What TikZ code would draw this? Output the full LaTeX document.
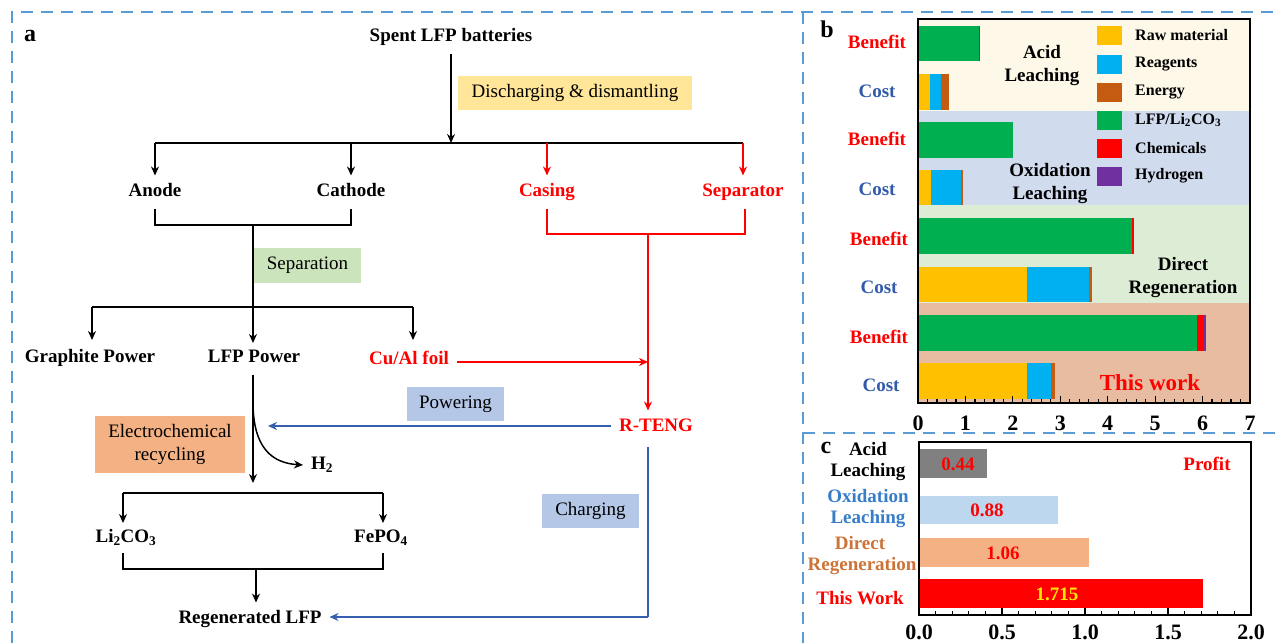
\documentclass[tikz,border=0pt]{standalone}
\usepackage{fontspec}
\setmainfont{Liberation Serif}
\usetikzlibrary{arrows.meta}
\definecolor{dashblue}{RGB}{91,155,213}
\definecolor{pred}{RGB}{255,0,0}
\definecolor{pblue}{RGB}{55,95,175}
\definecolor{costblue}{RGB}{50,90,170}
\definecolor{boxyellow}{RGB}{255,230,153}
\definecolor{boxgreen}{RGB}{204,228,188}
\definecolor{boxblue}{RGB}{180,199,231}
\definecolor{boxorange}{RGB}{244,177,131}
\definecolor{bgacid}{RGB}{253,248,232}
\definecolor{bgoxid}{RGB}{208,219,238}
\definecolor{bgdirect}{RGB}{221,236,212}
\definecolor{bgthis}{RGB}{231,188,160}
\definecolor{cyel}{RGB}{255,192,0}
\definecolor{cblue}{RGB}{0,176,240}
\definecolor{cbrown}{RGB}{197,90,17}
\definecolor{cgreen}{RGB}{0,176,80}
\definecolor{cpurple}{RGB}{112,48,160}
\definecolor{cgray}{RGB}{128,128,128}
\definecolor{clight}{RGB}{189,215,238}
\definecolor{oxtext}{RGB}{55,125,200}
\definecolor{dirtext}{RGB}{205,115,55}
\definecolor{valyellow}{RGB}{255,235,0}
\begin{document}
\begin{tikzpicture}[x=1pt,y=-1pt,
  lbl/.style={font=\bfseries\fontsize{19}{23}\selectfont, inner sep=0pt, outer sep=8pt, text height=13pt, text depth=4pt},
  plain/.style={font=\bfseries\fontsize{19}{23}\selectfont, inner sep=0pt, align=center},
  ticklbl/.style={font=\bfseries\fontsize{22}{26}\selectfont, inner sep=0pt},
  legtext/.style={font=\bfseries\fontsize{16}{19}\selectfont, inner sep=0pt, anchor=west},
  procbox/.style={font=\fontsize{19}{23}\selectfont, inner sep=0pt, align=center},
  ln/.style={line width=1.5pt},
  arr/.style={line width=1.5pt, -{Stealth[length=9pt,width=8pt]}},
  border/.style={dashblue, line width=2.5pt, dash pattern=on 12pt off 8pt},
  frame/.style={line width=1.8pt, black}
]
\useasboundingbox (0,0) rectangle (1276,643);

% ---------- borders ----------
\draw[border] (12,643) -- (12,12) -- (1276,12);
\draw[border] (803,12) -- (803,643);
\draw[border] (803,433) -- (1276,433);

% ---------- panel a ----------
\node[font=\bfseries\fontsize{24}{28}\selectfont, inner sep=0pt] (pa) at (30,36) {a};
\node[lbl] (spent) at (451,37) {Spent LFP batteries};
\node[procbox, fill=boxyellow, minimum width=234pt, minimum height=34pt] (dis) at (575,93) {Discharging \& dismantling};
\node[lbl] (anode) at (155,192) {Anode};
\node[lbl] (cathode) at (351,192) {Cathode};
\node[lbl, text=pred] (casing) at (547,192) {Casing};
\node[lbl, text=pred] (separator) at (743,192) {Separator};
\node[procbox, fill=boxgreen, minimum width=107pt, minimum height=35pt] (sep) at (307.5,265.5) {Separation};
\node[lbl] (graphite) at (90,358) {Graphite Power};
\node[lbl] (lfp) at (254,358) {LFP Power};
\node[lbl, text=pred] (cual) at (409,360) {Cu/Al foil};
\node[lbl, text=pred] (rteng) at (656,427) {R-TENG};
\node[procbox, fill=boxblue, minimum width=97pt, minimum height=34pt] (pow) at (455.5,404) {Powering};
\node[procbox, fill=boxorange, minimum width=150pt, minimum height=57pt] (echem) at (170,444.5) {Electrochemical\\recycling};
\node[lbl] (h2) at (322,465) {H\textsubscript{2}};
\node[lbl] (li) at (126,538) {Li\textsubscript{2}CO\textsubscript{3}};
\node[lbl] (fe) at (381,538) {FePO\textsubscript{4}};
\node[lbl] (regen) at (250,619) {Regenerated LFP};
\node[procbox, fill=boxblue, minimum width=97pt, minimum height=34pt] (chg) at (590.5,511) {Charging};

\coordinate (j1) at (451,143);
\coordinate (jl) at (155,143);
\coordinate (jc) at (351,143);
\coordinate (jk) at (547,143);
\coordinate (jr) at (743,143);
\draw[arr] (spent.south -| j1) -- (j1);
\draw[ln] (jl) -- (jr);
\draw[arr] (jl) -- (jl |- anode.north);
\draw[arr] (jc) -- (jc |- cathode.north);
\draw[arr, pred] (jk) -- (jk |- casing.north);
\draw[arr, pred] (jr) -- (jr |- separator.north);

\coordinate (ac1) at (155,225);
\coordinate (ac2) at (351,225);
\coordinate (acm) at (253,225);
\draw[ln] (ac1 |- anode.south) -- (ac1) -- (ac2) -- (ac2 |- cathode.south);
\coordinate (lt) at (253,343);
\draw[arr] (acm) -- (lt);
\coordinate (g1) at (92,307);
\coordinate (g2) at (413,307);
\draw[ln] (g1) -- (g2);
\draw[arr] (g1) -- (92,340);
\draw[arr] (g2) -- (413,340);

\coordinate (cs1) at (547,234);
\coordinate (cs2) at (745,234);
\coordinate (csm) at (648,234);
\draw[ln, pred] (cs1 |- casing.south) -- (cs1) -- (cs2) -- (cs2 |- separator.south);
\draw[arr, pred] (csm) -- (csm |- rteng.north);
\coordinate (cuend) at (648,362);
\draw[arr, pred] (cual.east |- cuend) -- (cuend);
\coordinate (pw) at (268,426);
\draw[arr, pblue] (rteng.west |- pw) -- (pw);

\coordinate (lf1) at (253,483);
\draw[arr] (lf1 |- lfp.south) -- (lf1);
\draw[arr] (253,402) .. controls (253,448) and (272,463) .. (h2.west);
\coordinate (b1) at (123,493);
\coordinate (b2) at (383,493);
\draw[ln] (b1) -- (b2);
\draw[arr] (b1) -- (123,523);
\draw[arr] (b2) -- (383,523);
\coordinate (d1) at (123,569);
\coordinate (d2) at (383,569);
\coordinate (dm) at (256,569);
\draw[ln] (123,553) -- (d1) -- (d2) -- (383,553);
\draw[arr] (dm) -- (dm |- regen.north);
\coordinate (ch0) at (648,447);
\coordinate (ch1) at (648,617);
\draw[ln, pblue] (ch0) -- (ch1);
\draw[arr, pblue] (ch1) -- (regen.east |- ch1);

% ---------- panel b ----------
\node[font=\bfseries\fontsize{24}{28}\selectfont, inner sep=0pt] (pb) at (827,29) {b};
\fill[bgacid] (918,19) rectangle (1250,111);
\fill[bgoxid] (918,111) rectangle (1250,205);
\fill[bgdirect] (918,205) rectangle (1250,303);
\fill[bgthis] (918,303) rectangle (1250,403);
% bars
\fill[cgreen] (918,26) rectangle (979,61); \fill[pred] (979,26) rectangle (980,61);
\fill[cyel] (918,74) rectangle (930,110); \fill[cblue] (930,74) rectangle (941,110); \fill[cbrown] (941,74) rectangle (949,110);
\fill[cgreen] (918,122) rectangle (1013,158);
\fill[cyel] (918,170) rectangle (931,205); \fill[cblue] (931,170) rectangle (961,205); \fill[cbrown] (961,170) rectangle (963,205);
\fill[cgreen] (918,218) rectangle (1132,254); \fill[pred] (1132,218) rectangle (1133.5,254);
\fill[cyel] (918,267) rectangle (1027,302); \fill[cblue] (1027,267) rectangle (1089,302); \fill[cbrown] (1089,267) rectangle (1092,302);
\fill[cgreen] (918,315) rectangle (1197,351); \fill[pred] (1197,315) rectangle (1203,351); \fill[cpurple] (1203,315) rectangle (1206,351);
\fill[cyel] (918,363) rectangle (1027,399); \fill[cblue] (1027,363) rectangle (1051,399); \fill[cbrown] (1051,363) rectangle (1055,399);
\draw[frame] (918,19) rectangle (1250,403);
\foreach \k in {0,...,7} {
  \draw[line width=1.2pt] ({918+47.43*\k},403) -- ++(0,-7);
  \node[ticklbl] at ({918+47.43*\k},423) {\k};
}
\foreach \k in {1,...,34} {
  \draw[line width=1.2pt] ({918+9.486*\k},403) -- ++(0,-4);
}
\node[plain, text=pred] (bb1) at (877,42) {Benefit};
\node[plain, text=costblue] (bc1) at (877,91) {Cost};
\node[plain, text=pred] (bb2) at (877,139) {Benefit};
\node[plain, text=costblue] (bc2) at (877,189) {Cost};
\node[plain, text=pred] (bb3) at (879,239) {Benefit};
\node[plain, text=costblue] (bc3) at (879,287) {Cost};
\node[plain, text=pred] (bb4) at (879,337) {Benefit};
\node[plain, text=costblue] (bc4) at (881,385) {Cost};
\node[plain] (racid) at (1042,66) {Acid\\Leaching};
\node[plain] (roxid) at (1050,184) {Oxidation\\Leaching};
\node[plain] (rdir) at (1183,277) {Direct\\Regeneration};
\node[plain, text=pred, font=\bfseries\fontsize{23}{27}\selectfont] (rthis) at (1150,383) {This work};
% legend
\foreach \c/\t/\yy in {cyel/{Raw material}/35, cblue/{Reagents}/64, cbrown/{Energy}/92, cgreen/{LFP/Li\textsubscript{2}CO\textsubscript{3}}/120, pred/{Chemicals}/148, cpurple/{Hydrogen}/176} {
  \fill[\c] (1097,\yy-9.5) rectangle (1122,\yy+9.5);
  \node[legtext] at (1135,\yy) {\t};
}

% ---------- panel c ----------
\node[font=\bfseries\fontsize{24}{28}\selectfont, inner sep=0pt] (pc) at (826,448) {c};
\fill[cgray] (919,449) rectangle (987,478);
\fill[clight] (919,496) rectangle (1058,524);
\fill[boxorange] (919,538) rectangle (1089,567);
\fill[pred] (919,579) rectangle (1203,608);
\draw[frame] (919,442) rectangle (1251,615);
\foreach \k in {0,...,4} {
  \draw[line width=1.2pt] ({919+83*\k},615) -- ++(0,-7);
}
\foreach \k in {1,...,19} {
  \draw[line width=1.2pt] ({919+16.6*\k},615) -- ++(0,-4);
}
\foreach \v/\xx in {0.0/919, 0.5/1002, 1.0/1085, 1.5/1168, 2.0/1251} {
  \node[ticklbl] at (\xx,632) {\v};
}
\node[plain, text=pred] (v1) at (958,464) {0.44};
\node[plain, text=pred] (v2) at (987,510) {0.88};
\node[plain, text=pred] (v3) at (1003,553) {1.06};
\node[plain, text=valyellow] (v4) at (1057,594) {1.715};
\node[plain, text=pred] (profit) at (1207,464) {Profit};
\node[plain] (ca1) at (868,449) {Acid};
\node[plain] (ca2) at (868,472) {Leaching};
\node[plain, text=oxtext] (co1) at (868,496) {Oxidation};
\node[plain, text=oxtext] (co2) at (868,519) {Leaching};
\node[plain, text=dirtext] (cd1) at (860,543) {Direct};
\node[plain, text=dirtext] (cd2) at (862,566) {Regeneration};
\node[plain, text=pred] (ct) at (860,598) {This Work};
\end{tikzpicture}
\end{document}
